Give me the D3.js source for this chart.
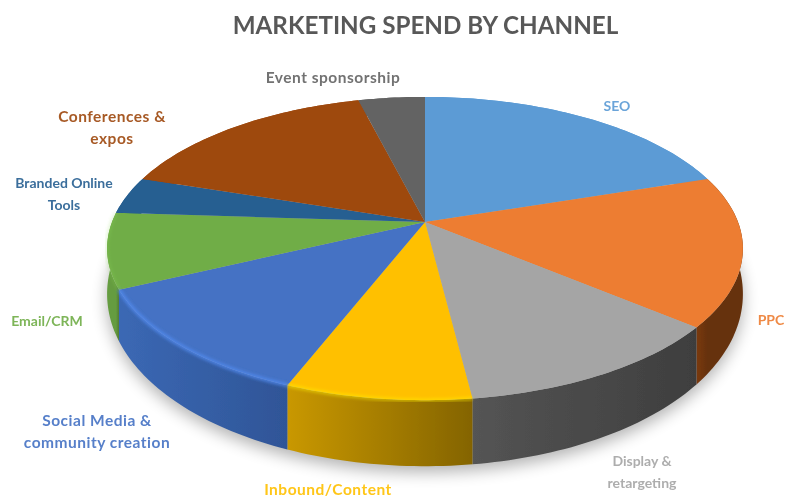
<!DOCTYPE html>
<html>
<head>
<meta charset="utf-8">
<script src="https://cdnjs.cloudflare.com/ajax/libs/d3/7.8.5/d3.min.js"></script>
<style>
  html, body { margin: 0; padding: 0; background: #fff; }
  svg { display: block; }
  text { font-family: Lato, "Open Sans", sans-serif; }
</style>
</head>
<body>
<script>
// values, percent of spend
const channels = ["SEO", "PPC", "Display & retargeting", "Inbound/Content", "Social Media & community creation",
  "Email/CRM", "Branded Online Tools", "Conferences & expos", "Event sponsorship"];
const spend = [20, 16, 12, 8, 12, 8, 4, 16, 4];
const topColors = ["#5b9bd5", "#ed7d31", "#a5a5a5", "#ffc000", "#4472c4", "#70ad47", "#255e91", "#9e480e", "#636363"];
const sideLeft = ["#5b9bd5", "#7a3a10", "#545454", "#c99800", "#3b68b4", "#659c40", "#255e91", "#9e480e", "#636363"];
const sideRight = ["#5b9bd5", "#66310c", "#3e3e3e", "#846400", "#2f5597", "#507a32", "#255e91", "#9e480e", "#636363"];
const bevelOpacity = [0, 0, 0, 0.45, 0.7, 0.2, 0, 0, 0];

const labelLines = [["SEO"], ["PPC"], ["Display &", "retargeting"], ["Inbound/Content"],
  ["Social Media &", "community creation"], ["Email/CRM"], ["Branded Online", "Tools"],
  ["Conferences &", "expos"], ["Event sponsorship"]];
const labelAt = [[617, 106], [771, 320], [642, 461], [328, 490], [97, 421], [47, 321], [64, 183], [112, 117], [333, 78]];
const labelWide = [false, false, false, true, true, false, false, true, true];
const lineGap = 22;

const w = 787, h = 497;
const apex = [425, 222];   // where the slices meet
const R = 313, S = 147, k = 0.175;   // perspective of the disc

// angle on the disc -> point on the screen
function rim(a) {
  const u = Math.sin(a), v = -Math.cos(a), p = 1 - k * v;
  return [apex[0] + R * u / p, apex[1] + S * v / p];
}
// same point on the lower edge of the disc
function lower(a) {
  const p = rim(a), v = -Math.cos(a);
  return [p[0], p[1] + 41 + 25 * v];
}
function samples(a0, a1) {
  const n = Math.max(2, Math.ceil((a1 - a0) / 0.02));
  return d3.range(n + 1).map(i => a0 + (a1 - a0) * i / n);
}

const line = d3.line();
const pie = d3.pie().sort(null).value(d => d)(spend);

const svg = d3.select("body").append("svg").attr("width", w).attr("height", h);
const defs = svg.append("defs");
defs.append("filter").attr("id", "soft").append("feGaussianBlur").attr("stdDeviation", 0.6);
defs.append("filter").attr("id", "softText").append("feGaussianBlur").attr("stdDeviation", 0.45);
defs.append("filter").attr("id", "bevel").append("feGaussianBlur").attr("stdDeviation", 1.8);
defs.append("filter").attr("id", "shadow")
  .attr("x", "-10%").attr("y", "-10%").attr("width", "120%").attr("height", "130%")
  .append("feGaussianBlur").attr("stdDeviation", 8);

pie.forEach((d, i) => {
  const g = defs.append("linearGradient").attr("id", "side" + i)
    .attr("gradientUnits", "userSpaceOnUse")
    .attr("x1", rim(d.startAngle)[0]).attr("x2", rim(d.endAngle)[0])
    .attr("y1", 0).attr("y2", 0);
  // start angle is on the right for the front slices
  g.append("stop").attr("offset", 0).attr("stop-color", sideRight[i]);
  g.append("stop").attr("offset", 1).attr("stop-color", sideLeft[i]);
});

svg.append("text")
  .attr("x", 425.5).attr("y", 34)
  .attr("text-anchor", "middle")
  .attr("font-size", 24.2).attr("font-weight", 700)
  .attr("fill", "#595959")
  .attr("filter", "url(#softText)")
  .text("MARKETING SPEND BY CHANNEL");

// soft shadow under the disc
svg.append("path")
  .attr("d", line(samples(0, 2 * Math.PI).map(a => { const p = lower(a); return [p[0], p[1] + 6]; })) + "Z")
  .attr("fill", "#000").attr("opacity", 0.3)
  .attr("filter", "url(#shadow)");

const chart = svg.append("g").attr("filter", "url(#soft)");

// side wall of each slice, the top covers the part at the back
chart.selectAll("path.side").data(pie).enter().append("path")
  .attr("class", "side")
  .attr("d", d => {
    const as = samples(d.startAngle, d.endAngle);
    return line(as.map(rim).concat(as.slice().reverse().map(lower))) + "Z";
  })
  .attr("fill", (d, i) => "url(#side" + i + ")");

chart.selectAll("path.slice").data(pie).enter().append("path")
  .attr("class", "slice")
  .attr("d", d => line([apex].concat(samples(d.startAngle, d.endAngle).map(rim))) + "Z")
  .attr("fill", (d, i) => topColors[i]);

// lighter edge on the front rim
chart.selectAll("path.bevel").data(pie).enter().append("path")
  .attr("class", "bevel")
  .attr("d", d => line(samples(d.startAngle, d.endAngle).map(rim)))
  .attr("fill", "none")
  .attr("stroke", (d, i) => d3.color(topColors[i]).brighter(0.6))
  .attr("stroke-width", 4)
  .attr("opacity", (d, i) => bevelOpacity[i])
  .attr("filter", "url(#bevel)");

// labels
const labels = svg.selectAll("text.label").data(channels).enter().append("text")
  .attr("class", "label")
  .attr("text-anchor", "middle")
  .attr("font-size", (d, i) => labelWide[i] ? 15.5 : 14).attr("font-weight", 700)
  .attr("letter-spacing", (d, i) => labelWide[i] ? 0.5 : 0)
  .attr("fill", (d, i) => topColors[i])
  .attr("opacity", 0.9)
  .attr("filter", "url(#softText)");

labels.each(function (d, i) {
  d3.select(this).selectAll("tspan").data(labelLines[i]).enter().append("tspan")
    .attr("x", labelAt[i][0])
    .attr("y", (t, j) => labelAt[i][1] + 5 + j * lineGap)
    .text(t => t);
});
</script>
</body>
</html>
